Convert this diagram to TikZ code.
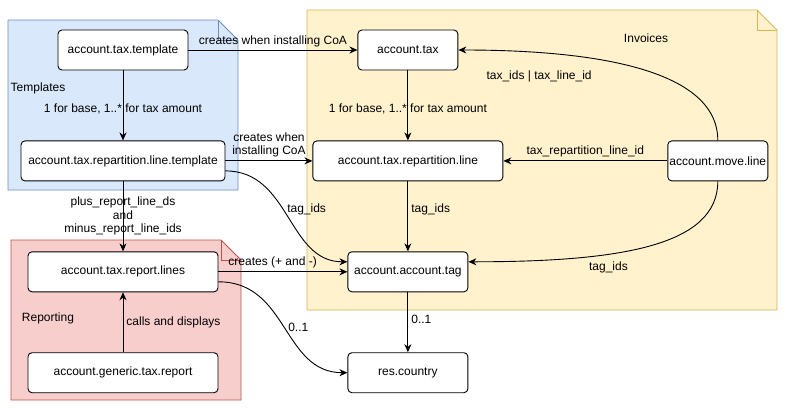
\documentclass[tikz,border=0pt]{standalone}
\usepackage{fontspec}
\setmainfont{Liberation Sans}
\usepackage{tikz}
\usetikzlibrary{matrix,arrows.meta}

\definecolor{tplfill}{HTML}{DAE8FC}
\definecolor{tpldraw}{HTML}{6C8EBF}
\definecolor{invfill}{HTML}{FFF2CC}
\definecolor{invdraw}{HTML}{D6B656}
\definecolor{repfill}{HTML}{F8CECC}
\definecolor{repdraw}{HTML}{B85450}

\begin{document}
\begin{tikzpicture}[x=1pt, y=-1pt, line width=0.9pt,
	font=\fontsize{12}{13.5}\selectfont,
	model/.style={draw, fill=white, rounded corners=4pt, minimum height=40pt, inner sep=1pt, anchor=center},
	lbl/.style={inner sep=3pt, align=center},
	>={Stealth[length=8pt, width=7pt, inset=2.5pt]}]
	\useasboundingbox (0,0) rectangle (789,418);

	% notes
	\draw[fill=tplfill, draw=tpldraw] (8,20) -- (218,20) -- (238,40) -- (238,190) -- (8,190) -- cycle;
	\draw[draw=tpldraw] (218,20) -- (218,40) -- (238,40);
	\node (templates) at (38,88) {Templates};

	\draw[fill=invfill, draw=invdraw] (307,10) -- (757,10) -- (777,30) -- (777,310) -- (307,310) -- cycle;
	\draw[draw=invdraw] (757,10) -- (757,30) -- (777,30);
	\node (invoices) at (646,38) {Invoices};

	\draw[fill=repfill, draw=repdraw] (11,240) -- (221,240) -- (241,260) -- (241,400) -- (11,400) -- cycle;
	\draw[draw=repdraw] (221,240) -- (221,260) -- (241,260);
	\node (reporting) at (48,318) {Reporting};

	\matrix (m) [matrix of nodes, row sep=70pt, column sep=87pt,
		nodes={model}, matrix anchor=m-1-1.center] at (123,50)
	{
		|[minimum width=130pt]| account.tax.template
		& |[minimum width=100pt]| account.tax
		&[77pt] \\
		|[minimum width=204pt]| account.tax.repartition.line.template
		& |[minimum width=190pt]| account.tax.repartition.line
		& |[minimum width=100pt]| account.move.line \\
		|[minimum width=190pt]| account.tax.report.lines
		& |[minimum width=120pt]| account.account.tag
		& \\[-10pt]
		|[minimum width=190pt]| account.generic.tax.report
		& |[minimum width=120pt]| res.country
		& \\
	};

	\path[->]
	(m-1-1) edge node [lbl, above] {creates when installing CoA} (m-1-2)
	edge node [lbl, pos=0.55] {1 for base, 1..* for tax amount} (m-2-1)
	(m-1-2) edge node [lbl, pos=0.55] {1 for base, 1..* for tax amount} (m-2-2)
	(m-2-1) edge node [lbl, above] {creates when\\installing CoA} (m-2-2)
	edge node [lbl] {plus\_report\_line\_ds\\and\\minus\_report\_line\_ids} (m-3-1)
	(m-2-3) edge node [lbl, above] {tax\_repartition\_line\_id} (m-2-2)
	(m-2-2) edge node [lbl, right, pos=0.4] {tag\_ids} (m-3-2)
	(m-3-1) edge node [lbl, above, pos=0.42] {creates (+ and -)} (m-3-2)
	(m-4-1) edge node [lbl, right] {calls and displays} (m-3-1)
	(m-3-2) edge node [lbl, right, pos=0.45] {0..1} (m-4-2)
	;
	\draw[->] ([yshift=-10pt]m-2-1.east) .. controls +(65,0) and +(-60,0) .. ([yshift=10pt]m-3-2.west)
		node [lbl, right, pos=0.45] {tag\_ids};
	\draw[->] ([yshift=-10pt]m-3-1.east) .. controls +(70,0) and +(-65,0) .. (m-4-2.west)
		node [lbl, right, pos=0.5] {0..1};
	\draw[->] (m-2-3.north) .. controls +(0,-70) and +(140,0) .. (m-1-2.east)
		node [lbl, below, pos=0.8, yshift=-15pt] {tax\_ids | tax\_line\_id};
	\draw[->] (m-2-3.south) .. controls +(0,65) and +(150,0) .. ([yshift=10pt]m-3-2.east)
		node [lbl, below, pos=0.64, yshift=-4pt] {tag\_ids};
\end{tikzpicture}
\end{document}
